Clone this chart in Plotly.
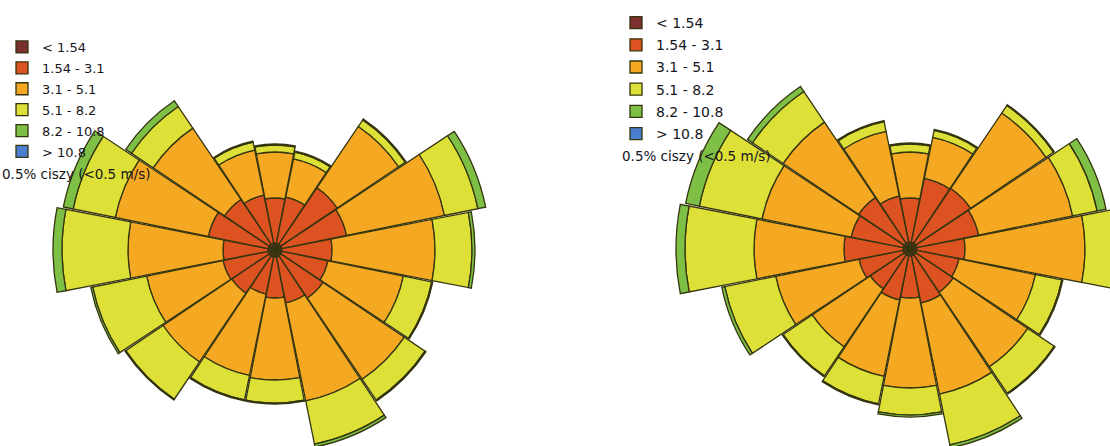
import plotly.graph_objects as go

# ---------------- data ----------------
directions = ["N", "NNE", "NE", "ENE", "E", "ESE", "SE", "SSE",
              "S", "SSW", "SW", "WSW", "W", "WNW", "NW", "NNW"]
direction_deg = [0, 22.5, 45, 67.5, 90, 112.5, 135, 157.5,
                 180, 202.5, 225, 247.5, 270, 292.5, 315, 337.5]

speed_classes = ["< 1.54", "1.54 - 3.1", "3.1 - 5.1", "5.1 - 8.2", "8.2 - 10.8", "> 10.8"]
class_colors = ["#7b2f31", "#dc5221", "#f5a821", "#dde036", "#7dc045", "#4a7fcf"]
calm_note = "0.5% ciszy (<0.5 m/s)"

# left rose – radial share of each speed class per direction (relative units)
left_lt154   = [7, 7, 7, 7, 7, 7, 7, 7, 7, 7, 7, 7, 7, 7, 7, 7]
left_154_31  = [45, 47, 68, 66, 50, 47, 51, 47, 41, 38, 45, 46, 45, 61, 54, 49]
left_31_51   = [46, 39, 74, 100, 103, 77, 98, 100, 82, 83, 83, 78, 95, 95, 86, 46]
left_51_82   = [7, 7, 8, 34, 37, 29, 25, 44, 23, 25, 45, 55, 66, 43, 26, 8]
left_82_108  = [1, 1, 1, 8, 3, 1, 1, 3, 1, 1, 1, 2, 9, 10, 7, 1]
left_gt108   = [0, 0, 0, 0, 0, 0, 0, 0, 0, 0, 0, 0, 0, 0, 0, 0]

# right rose
right_lt154  = [7, 7, 7, 7, 7, 7, 7, 7, 7, 7, 7, 7, 7, 7, 7, 7]
right_154_31 = [44, 65, 66, 63, 48, 43, 45, 48, 42, 45, 41, 45, 59, 53, 55, 47]
right_31_51  = [46, 42, 91, 96, 120, 78, 90, 93, 90, 78, 70, 85, 90, 91, 91, 66]
right_51_82  = [8, 7, 9, 25, 35, 27, 32, 52, 27, 28, 35, 52, 69, 64, 37, 10]
right_82_108 = [1, 1, 1, 9, 3, 1, 1, 3, 2, 1, 1, 3, 9, 14, 6, 1]
right_gt108  = [0, 0, 0, 0, 0, 0, 0, 0, 0, 0, 0, 0, 0, 0, 0, 0]

left_series = [left_lt154, left_154_31, left_31_51, left_51_82, left_82_108, left_gt108]
right_series = [right_lt154, right_154_31, right_31_51, right_51_82, right_82_108, right_gt108]

# ---------------- figure ----------------
FIG_W, FIG_H = 1160, 500     # page is cropped to the 1110x446 window
R_PX = 240                   # radius of each polar area in px
LEFT_C = (275, 250)          # centre (x from left, y from top)
RIGHT_C = (910, 249)
TEXT_COL = "#151520"

fig = go.Figure()

for series, polar, legend in ((left_series, "polar", "legend"),
                              (right_series, "polar2", "legend2")):
    for name, vals, col in zip(speed_classes, series, class_colors):
        fig.add_trace(go.Barpolar(
            r=vals, theta=direction_deg, width=22,
            name=name, marker=dict(color=col, line=dict(color="#34340f", width=1.3)),
            subplot=polar, legend=legend, legendgroup=legend + name,
            hovertext=directions, hoverinfo="text+r+name",
        ))


def domain(c):
    cx, cy = c
    cyb = FIG_H - cy
    return dict(x=[(cx - R_PX) / FIG_W, (cx + R_PX) / FIG_W],
                y=[(cyb - R_PX) / FIG_H, (cyb + R_PX) / FIG_H])


polar_common = dict(
    bgcolor="white",
    radialaxis=dict(visible=False, range=[0, R_PX], showgrid=False),
    angularaxis=dict(visible=False, direction="clockwise", rotation=90, showgrid=False),
    barmode="stack",
)

legend_common = dict(
    bgcolor="rgba(0,0,0,0)", borderwidth=0, xanchor="left", yanchor="top",
    tracegroupgap=1,
)

fig.update_layout(
    width=FIG_W, height=FIG_H, autosize=False,
    margin=dict(l=0, r=0, t=0, b=0),
    paper_bgcolor="white", plot_bgcolor="white",
    polar=dict(domain=domain(LEFT_C), **polar_common),
    polar2=dict(domain=domain(RIGHT_C), **polar_common),
    legend=dict(x=2 / FIG_W, y=1 - 32 / FIG_H,
                font=dict(family="DejaVu Sans", size=13, color=TEXT_COL), **legend_common),
    legend2=dict(x=616 / FIG_W, y=1 - 7 / FIG_H,
                 font=dict(family="DejaVu Sans", size=14, color=TEXT_COL), **legend_common),
    annotations=[
        dict(text=calm_note, xref="paper", yref="paper", x=0, y=1 - 174 / FIG_H,
             xanchor="left", yanchor="middle", showarrow=False,
             font=dict(family="DejaVu Sans", size=13.5, color=TEXT_COL)),
        dict(text=calm_note, xref="paper", yref="paper", x=620 / FIG_W, y=1 - 156 / FIG_H,
             xanchor="left", yanchor="middle", showarrow=False,
             font=dict(family="DejaVu Sans", size=13.5, color=TEXT_COL)),
    ],
    showlegend=True,
)

fig.write_html(
    "out.html",
    config={"displayModeBar": False},
    post_script="document.documentElement.style.overflow='hidden';"
                "document.body.style.overflow='hidden';document.body.style.margin='0';",
)
